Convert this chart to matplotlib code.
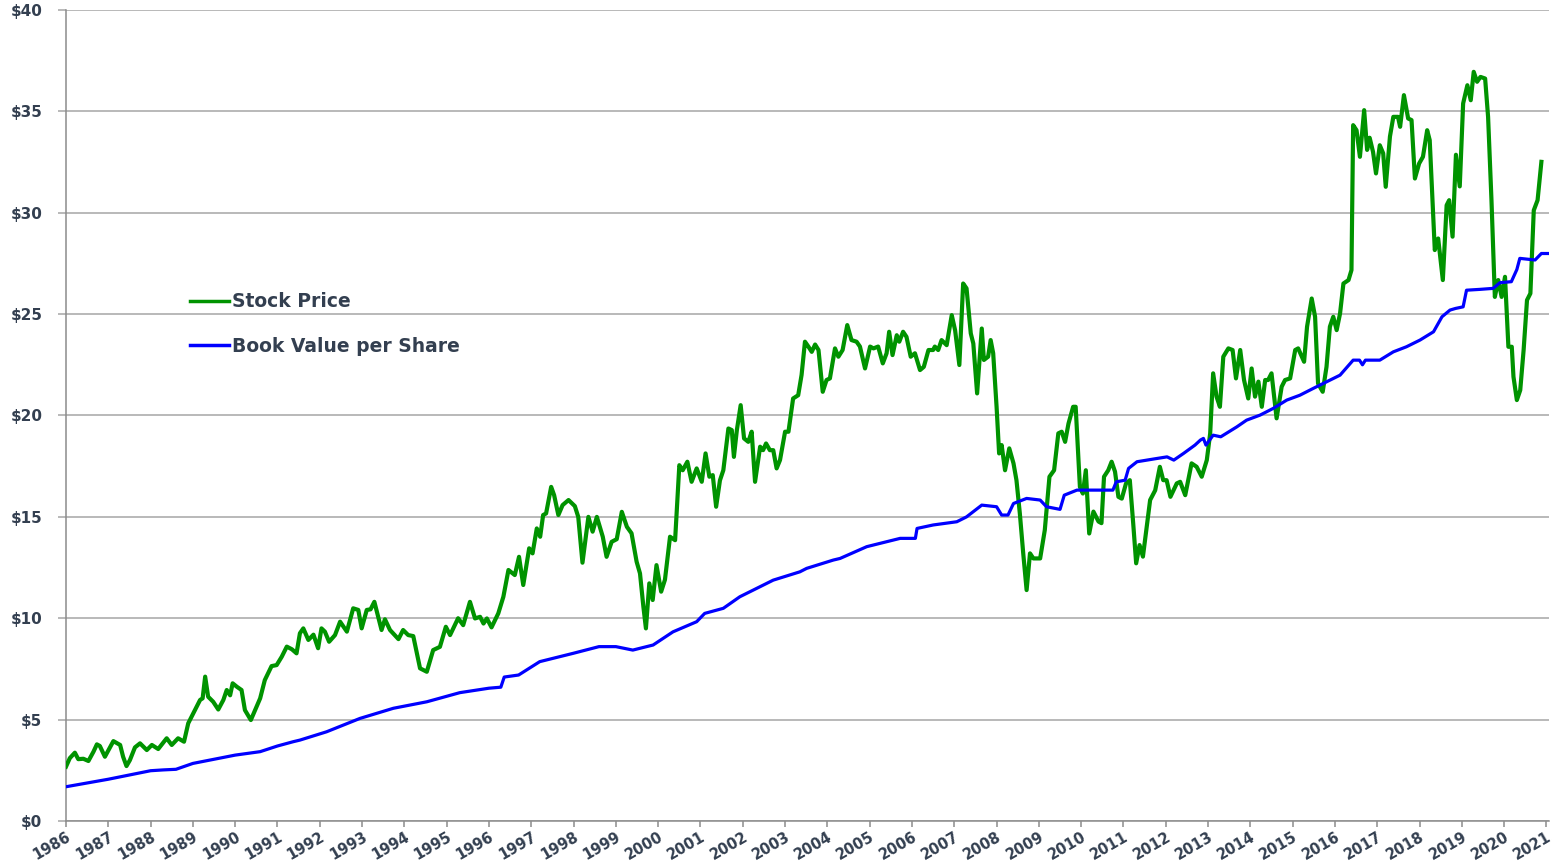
import numpy as np
import matplotlib
matplotlib.use('Agg')
from matplotlib import pyplot as plt
from matplotlib.ticker import FuncFormatter

# stock price, (decimal year, $)
price_t = [1986.00, 1986.09, 1986.21, 1986.29, 1986.41, 1986.53, 1986.65, 1986.73, 1986.80, 1986.92,
           1987.12, 1987.28, 1987.35, 1987.43, 1987.51, 1987.63, 1987.75, 1987.91, 1988.03, 1988.18,
           1988.38, 1988.50, 1988.65, 1988.79, 1988.89, 1989.01, 1989.17, 1989.23, 1989.29, 1989.36,
           1989.48, 1989.60, 1989.72, 1989.80, 1989.88, 1989.94, 1990.04, 1990.15, 1990.23, 1990.37,
           1990.47, 1990.59, 1990.70, 1990.86, 1990.98, 1991.10, 1991.22, 1991.34, 1991.45, 1991.53,
           1991.61, 1991.73, 1991.85, 1991.96, 1992.04, 1992.12, 1992.22, 1992.36, 1992.48, 1992.64,
           1992.79, 1992.91, 1992.99, 1993.11, 1993.20, 1993.29, 1993.38, 1993.46, 1993.54, 1993.66,
           1993.86, 1993.97, 1994.09, 1994.21, 1994.37, 1994.53, 1994.68, 1994.84, 1994.98, 1995.08,
           1995.27, 1995.39, 1995.55, 1995.67, 1995.79, 1995.87, 1995.95, 1996.06, 1996.22, 1996.34,
           1996.46, 1996.61, 1996.71, 1996.81, 1996.95, 1997.03, 1997.13, 1997.21, 1997.28, 1997.35,
           1997.47, 1997.54, 1997.64, 1997.74, 1997.88, 1998.03, 1998.11, 1998.21, 1998.35, 1998.45,
           1998.55, 1998.69, 1998.78, 1998.90, 1999.02, 1999.14, 1999.26, 1999.37, 1999.49, 1999.57,
           1999.65, 1999.71, 1999.79, 1999.87, 1999.96, 2000.07, 2000.16, 2000.28, 2000.40, 2000.50,
           2000.58, 2000.69, 2000.79, 2000.91, 2001.03, 2001.12, 2001.21, 2001.29, 2001.37, 2001.46,
           2001.54, 2001.66, 2001.74, 2001.79, 2001.86, 2001.95, 2002.03, 2002.13, 2002.21, 2002.29,
           2002.41, 2002.48, 2002.55, 2002.64, 2002.72, 2002.80, 2002.88, 2003.00, 2003.08, 2003.19,
           2003.31, 2003.39, 2003.47, 2003.55, 2003.63, 2003.71, 2003.79, 2003.89, 2003.98, 2004.06,
           2004.18, 2004.26, 2004.36, 2004.47, 2004.57, 2004.69, 2004.77, 2004.89, 2005.01, 2005.09,
           2005.20, 2005.31, 2005.40, 2005.46, 2005.54, 2005.64, 2005.70, 2005.79, 2005.87, 2005.97,
           2006.07, 2006.19, 2006.28, 2006.39, 2006.50, 2006.54, 2006.62, 2006.70, 2006.82, 2006.94,
           2007.02, 2007.12, 2007.21, 2007.29, 2007.39, 2007.45, 2007.54, 2007.65, 2007.70, 2007.80,
           2007.86, 2007.92, 2008.00, 2008.06, 2008.12, 2008.20, 2008.30, 2008.40, 2008.47, 2008.55,
           2008.63, 2008.71, 2008.79, 2008.87, 2009.03, 2009.14, 2009.25, 2009.36, 2009.46, 2009.54,
           2009.62, 2009.70, 2009.81, 2009.87, 2009.97, 2010.04, 2010.11, 2010.19, 2010.29, 2010.41,
           2010.48, 2010.54, 2010.64, 2010.72, 2010.80, 2010.88, 2010.96, 2011.06, 2011.15, 2011.23,
           2011.30, 2011.38, 2011.46, 2011.55, 2011.63, 2011.75, 2011.86, 2011.94, 2012.02, 2012.11,
           2012.26, 2012.34, 2012.46, 2012.61, 2012.73, 2012.85, 2012.97, 2013.05, 2013.12, 2013.20,
           2013.28, 2013.36, 2013.48, 2013.58, 2013.66, 2013.76, 2013.85, 2013.95, 2014.03, 2014.11,
           2014.19, 2014.27, 2014.35, 2014.42, 2014.50, 2014.62, 2014.74, 2014.82, 2014.94, 2015.06,
           2015.13, 2015.27, 2015.34, 2015.45, 2015.53, 2015.60, 2015.71, 2015.80, 2015.88, 2015.96,
           2016.04, 2016.12, 2016.20, 2016.32, 2016.39, 2016.43, 2016.51, 2016.59, 2016.69, 2016.76,
           2016.82, 2016.90, 2016.97, 2017.06, 2017.14, 2017.20, 2017.30, 2017.38, 2017.49, 2017.54,
           2017.63, 2017.73, 2017.81, 2017.89, 2017.99, 2018.08, 2018.18, 2018.24, 2018.36, 2018.44,
           2018.55, 2018.64, 2018.70, 2018.78, 2018.86, 2018.95, 2019.03, 2019.13, 2019.21, 2019.28,
           2019.36, 2019.44, 2019.55, 2019.62, 2019.70, 2019.78, 2019.86, 2019.94, 2020.02, 2020.10,
           2020.18, 2020.22, 2020.30, 2020.38, 2020.46, 2020.54, 2020.62, 2020.70, 2020.79, 2020.88]
price_v = [2.68, 3.10, 3.37, 3.05, 3.07, 2.96, 3.42, 3.78, 3.70, 3.17,
           3.94, 3.75, 3.17, 2.71, 3.00, 3.63, 3.83, 3.50, 3.75, 3.55,
           4.08, 3.75, 4.08, 3.91, 4.82, 5.31, 5.97, 6.05, 7.12, 6.13,
           5.88, 5.50, 5.97, 6.46, 6.20, 6.79, 6.62, 6.46, 5.47, 4.98,
           5.47, 6.05, 6.95, 7.64, 7.69, 8.10, 8.60, 8.47, 8.27, 9.26,
           9.50, 8.93, 9.19, 8.52, 9.50, 9.34, 8.84, 9.17, 9.83, 9.34,
           10.49, 10.41, 9.50, 10.41, 10.44, 10.81, 10.07, 9.42, 9.95, 9.42,
           8.97, 9.42, 9.17, 9.12, 7.53, 7.36, 8.43, 8.59, 9.58, 9.17,
           10.00, 9.66, 10.81, 9.99, 10.07, 9.74, 9.99, 9.55, 10.24, 11.06,
           12.38, 12.13, 13.03, 11.64, 13.45, 13.20, 14.43, 14.02, 15.09, 15.17,
           16.48, 16.07, 15.09, 15.58, 15.83, 15.53, 15.00, 12.74, 15.00, 14.27,
           15.00, 14.02, 13.03, 13.77, 13.90, 15.25, 14.51, 14.19, 12.79, 12.21,
           10.57, 9.50, 11.72, 10.90, 12.62, 11.31, 11.90, 14.02, 13.85, 17.55,
           17.30, 17.72, 16.73, 17.39, 16.73, 18.13, 16.98, 17.06, 15.50, 16.80,
           17.30, 19.36, 19.28, 17.96, 19.28, 20.51, 18.87, 18.70, 19.20, 16.73,
           18.46, 18.29, 18.62, 18.29, 18.29, 17.39, 17.80, 19.20, 19.20, 20.84,
           21.00, 22.00, 23.64, 23.40, 23.14, 23.50, 23.23, 21.17, 21.75, 21.83,
           23.31, 22.90, 23.23, 24.46, 23.72, 23.64, 23.40, 22.32, 23.40, 23.31,
           23.40, 22.57, 23.07, 24.13, 22.98, 23.96, 23.64, 24.13, 23.88, 22.90,
           23.07, 22.24, 22.40, 23.23, 23.23, 23.40, 23.23, 23.72, 23.47, 24.95,
           24.20, 22.49, 26.51, 26.27, 24.05, 23.55, 21.09, 24.29, 22.74, 22.90,
           23.72, 23.07, 20.43, 18.13, 18.54, 17.30, 18.38, 17.64, 16.81, 15.17,
           13.20, 11.39, 13.20, 12.95, 12.95, 14.35, 16.98, 17.30, 19.12, 19.20,
           18.70, 19.60, 20.43, 20.43, 16.48, 16.15, 17.30, 14.18, 15.26, 14.77,
           14.69, 16.98, 17.30, 17.72, 17.23, 15.99, 15.90, 16.65, 16.81, 14.68,
           12.71, 13.61, 13.04, 14.52, 15.83, 16.31, 17.47, 16.81, 16.81, 15.99,
           16.65, 16.73, 16.07, 17.64, 17.47, 16.98, 17.80, 19.12, 22.08, 20.93,
           20.43, 22.90, 23.31, 23.23, 21.83, 23.23, 21.75, 20.84, 22.32, 20.93,
           21.67, 20.43, 21.75, 21.75, 22.08, 19.86, 21.42, 21.75, 21.83, 23.23,
           23.31, 22.65, 24.38, 25.77, 24.87, 21.58, 21.17, 22.40, 24.38, 24.87,
           24.21, 25.03, 26.51, 26.68, 27.17, 34.32, 34.07, 32.76, 35.06, 33.10,
           33.70, 33.00, 31.94, 33.33, 32.93, 31.28, 33.76, 34.73, 34.73, 34.24,
           35.80, 34.65, 34.57, 31.69, 32.43, 32.76, 34.07, 33.58, 28.16, 28.73,
           26.68, 30.37, 30.62, 28.82, 32.86, 31.30, 35.39, 36.29, 35.55, 36.95,
           36.46, 36.70, 36.62, 34.73, 30.62, 25.85, 26.68, 25.85, 26.84, 23.39,
           23.39, 21.91, 20.76, 21.25, 23.23, 25.69, 26.02, 30.12, 30.62, 32.51]

# book value per share
book_t = [1986.00, 1987.00, 1988.00, 1988.30, 1988.60, 1989.00, 1990.00, 1990.59, 1991.00, 1991.37,
          1991.53, 1992.16, 1992.95, 1993.74, 1994.53, 1995.31, 1996.00, 1996.28, 1996.36, 1996.70,
          1997.20, 1997.99, 1998.60, 1999.00, 1999.40, 1999.88, 2000.35, 2000.91, 2001.10, 2001.54,
          2001.93, 2002.72, 2003.35, 2003.51, 2004.14, 2004.30, 2004.93, 2005.72, 2006.08, 2006.12,
          2006.50, 2007.06, 2007.29, 2007.65, 2008.00, 2008.12, 2008.27, 2008.40, 2008.71, 2009.03,
          2009.18, 2009.50, 2009.60, 2009.90, 2010.20, 2010.75, 2010.83, 2011.04, 2011.12, 2011.32,
          2011.79, 2012.03, 2012.19, 2012.42, 2012.69, 2012.82, 2012.89, 2012.95, 2013.12, 2013.30,
          2013.68, 2013.91, 2014.23, 2014.54, 2014.86, 2015.17, 2015.49, 2015.80, 2016.12, 2016.43,
          2016.58, 2016.65, 2016.72, 2017.06, 2017.38, 2017.69, 2018.01, 2018.33, 2018.53, 2018.72,
          2018.85, 2019.03, 2019.11, 2019.42, 2019.74, 2019.90, 2020.17, 2020.30, 2020.37, 2020.73,
          2020.88, 2021.04]
book_v = [1.69, 2.06, 2.48, 2.52, 2.55, 2.84, 3.25, 3.42, 3.70, 3.91,
          3.99, 4.40, 5.06, 5.56, 5.88, 6.33, 6.55, 6.60, 7.10, 7.20,
          7.86, 8.27, 8.60, 8.60, 8.43, 8.68, 9.33, 9.83, 10.24, 10.49,
          11.06, 11.88, 12.29, 12.46, 12.87, 12.95, 13.53, 13.94, 13.94, 14.43,
          14.60, 14.76, 15.00, 15.58, 15.50, 15.09, 15.09, 15.66, 15.91, 15.83,
          15.50, 15.37, 16.07, 16.32, 16.32, 16.32, 16.73, 16.81, 17.39, 17.72,
          17.88, 17.96, 17.80, 18.13, 18.54, 18.79, 18.87, 18.54, 19.03, 18.95,
          19.44, 19.77, 20.02, 20.35, 20.76, 21.00, 21.34, 21.66, 21.99, 22.73,
          22.73, 22.50, 22.73, 22.73, 23.14, 23.39, 23.72, 24.13, 24.87, 25.20,
          25.28, 25.36, 26.18, 26.22, 26.27, 26.55, 26.60, 27.20, 27.75, 27.67,
          27.99, 27.99]

years = list(range(1986, 2022))
yticks = list(range(0, 45, 5))

text_col = '#333f50'
grid_col = '#a6a6a6'

fig = plt.figure(figsize=(15.54, 8.65), dpi=100)
ax = fig.add_axes([66/1554, 1-821/865, (1549-66)/1554, (821-10)/865])

ax.plot(price_t, price_v, color='#009300', lw=3.0, label='Stock Price', solid_joinstyle='round', zorder=3)
ax.plot(book_t, book_v, color='#0000ff', lw=2.3, label='Book Value per Share', solid_joinstyle='round', zorder=4)

ax.set_xlim(1986, 2021.06)
ax.set_ylim(0, 40)
ax.set_yticks(yticks)
ax.yaxis.set_major_formatter(FuncFormatter(lambda v, p: '$%d' % v))
ax.set_xticks(years)
ax.set_xticklabels([str(y) for y in years], rotation=30, ha='right', rotation_mode='anchor')

ax.grid(axis='y', color=grid_col, lw=1.1)
ax.set_axisbelow(True)
for s in ['top', 'right']:
    ax.spines[s].set_visible(False)
for s in ['left', 'bottom']:
    ax.spines[s].set_color('#8c8c8c')
    ax.spines[s].set_linewidth(1.1)

ax.tick_params(axis='y', length=6, width=1.1, color=grid_col, labelsize=11,
               labelcolor=text_col, pad=11)
ax.tick_params(axis='x', length=4, width=1.1, color='#8c8c8c', labelsize=10.5,
               labelcolor=text_col, pad=2)
for lab in ax.get_xticklabels() + ax.get_yticklabels():
    lab.set_fontweight('bold')

leg = ax.legend(loc='upper left', bbox_to_anchor=(0.0836, 0.652), frameon=False,
                handlelength=2.1, handletextpad=0.12, labelspacing=1.35,
                borderpad=0, borderaxespad=0,
                prop={'weight': 'bold', 'size': 13.5})
for t in leg.get_texts():
    t.set_color(text_col)
for h in leg.get_lines():
    h.set_linewidth(2.5)

plt.savefig('out.png', dpi=100)
